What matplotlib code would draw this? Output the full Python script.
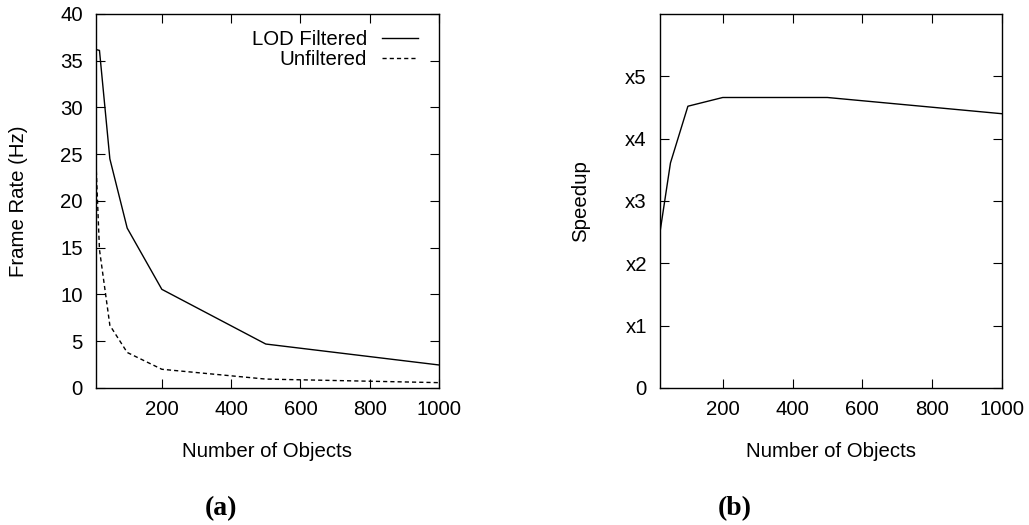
import matplotlib
matplotlib.use('Agg')
import matplotlib.pyplot as plt

# Frame rate vs number of objects
objects = [10, 20, 50, 100, 200, 500, 1000]
lod_filtered = [36.2, 36.1, 24.5, 17.1, 10.55, 4.7, 2.46]
unfiltered = [24.0, 14.8, 6.7, 3.8, 2.0, 0.95, 0.57]

# Speedup (starts at 20 objects)
speedup_objects = [20, 50, 100, 200, 500, 1000]
speedup = [2.5, 3.61, 4.52, 4.66, 4.66, 4.40]

x_ticks = [200, 400, 600, 800, 1000]
rate_ticks = [0, 5, 10, 15, 20, 25, 30, 35, 40]
speedup_ticks = [0, 1, 2, 3, 4, 5]
speedup_labels = ['0', 'x1', 'x2', 'x3', 'x4', 'x5']

FS = 14.7

plt.rcParams['font.family'] = ['Liberation Sans', 'DejaVu Sans']
plt.rcParams['font.size'] = FS


def style_axes(ax, ylab_x):
    ax.tick_params(direction='in', length=6.5, width=0.8, top=True, right=True,
                   labelsize=FS)
    ax.tick_params(axis='y', pad=9.5)
    ax.tick_params(axis='x', pad=9)
    for s in ax.spines.values():
        s.set_linewidth(1.0)
    ax.set_xticks(x_ticks)
    ax.set_xlabel('Number of Objects', fontsize=FS, va='center')
    ax.xaxis.set_label_coords(0.5, -0.170)
    ax.yaxis.label.set_va('center')
    ax.yaxis.set_label_coords(ylab_x, 0.5)


def main():
    fig = plt.figure(figsize=(10.29, 5.25), dpi=100)
    ax1 = fig.add_axes([0.0933, 0.2610, 0.3333, 0.7124])
    ax2 = fig.add_axes([0.6414, 0.2610, 0.3321, 0.7124])

    # (a) frame rate
    ax1.plot(objects, lod_filtered, color='black', lw=1.0, label='LOD Filtered')
    ax1.plot(objects, unfiltered, color='black', lw=1.0, linestyle=(0, (3, 2.2)),
             label='Unfiltered')
    ax1.set_xlim(10, 1000)
    ax1.set_ylim(0, 40)
    ax1.set_yticks(rate_ticks)
    ax1.set_ylabel('Frame Rate (Hz)', fontsize=FS)
    style_axes(ax1, -0.225)
    ax1.legend(loc='upper right', bbox_to_anchor=(0.9388, 0.958),
               frameon=False, markerfirst=False, fontsize=FS,
               handlelength=1.78, handletextpad=0.72, labelspacing=0.05,
               borderaxespad=0, borderpad=0)
    for t in ax1.get_legend().get_texts():
        t.set_ha('right')

    # (b) speedup
    ax2.plot(speedup_objects, speedup, color='black', lw=1.0)
    ax2.set_xlim(20, 1000)
    ax2.set_ylim(0, 6)
    ax2.set_yticks(speedup_ticks)
    ax2.set_yticklabels(speedup_labels)
    ax2.set_ylabel('Speedup', fontsize=FS)
    style_axes(ax2, -0.234)

    fig.text(0.2145, 1 - 509 / 525, '(a)', family='Liberation Serif',
             weight='bold', fontsize=20, ha='center', va='center')
    fig.text(0.7145, 1 - 509 / 525, '(b)', family='Liberation Serif',
             weight='bold', fontsize=20, ha='center', va='center')

    fig.savefig('out.png', dpi=100)


if __name__ == '__main__':
    main()
